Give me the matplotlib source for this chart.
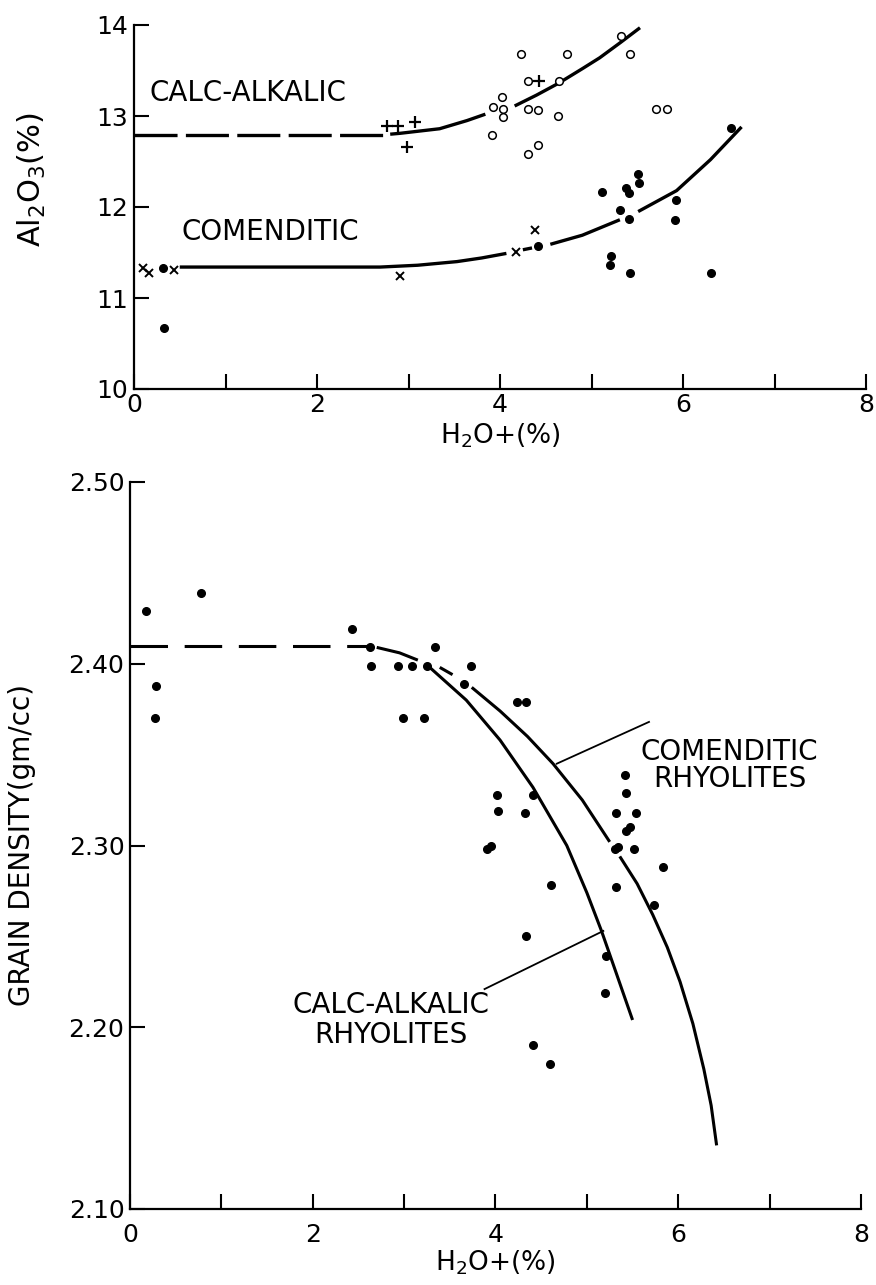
import matplotlib
matplotlib.use("Agg")
import matplotlib.pyplot as plt

plt.rcParams['font.family'] = ['DejaVu Sans']
plt.rcParams['lines.scale_dashes'] = False

# ---- Panel superior: Al2O3 vs H2O+ ----
calc_circ_x = [3.92, 3.91, 4.02, 4.03, 4.03, 4.23, 4.31, 4.31, 4.31, 4.42, 4.42, 4.64, 4.63, 4.73, 5.32, 5.42, 5.71, 5.82]
calc_circ_y = [13.10, 12.79, 13.21, 13.08, 12.99, 13.68, 13.38, 13.08, 12.58, 13.07, 12.68, 13.39, 13.00, 13.68, 13.88, 13.68, 13.08, 13.08]
calc_plus_x = [2.76, 2.88, 3.07, 2.98, 4.43]
calc_plus_y = [12.89, 12.89, 12.93, 12.66, 13.38]

com_dot_x = [0.32, 0.33, 4.41, 5.11, 5.21, 5.20, 5.31, 5.38, 5.41, 5.41, 5.42, 5.51, 5.52, 5.91, 5.92, 6.31, 6.52]
com_dot_y = [11.33, 10.67, 11.57, 12.17, 11.46, 11.36, 11.97, 12.21, 12.15, 11.87, 11.27, 12.36, 12.26, 11.86, 12.08, 11.27, 12.87]
com_x_x = [0.10, 0.16, 0.44, 2.91, 4.17, 4.38]
com_x_y = [11.33, 11.27, 11.31, 11.24, 11.51, 11.75]

# curvas (tramos separados)
calc_dash_x = [0.0, 2.80]
calc_dash_y = [12.79, 12.79]
calc_seg_x = [[2.80, 2.91, 3.34, 3.64, 3.84], [4.16, 4.40, 4.64, 4.90, 5.09, 5.32, 5.53]]
calc_seg_y = [[12.80, 12.81, 12.86, 12.95, 13.02], [13.11, 13.23, 13.36, 13.52, 13.64, 13.81, 13.97]]
com_seg_x = [[0.50, 1.50, 2.69, 3.10, 3.53, 3.80, 4.07], [4.25, 4.35], [4.55, 4.90, 5.31], [5.51, 5.93, 6.30, 6.64]]
com_seg_y = [[11.34, 11.34, 11.34, 11.36, 11.40, 11.44, 11.49], [11.53, 11.55], [11.59, 11.69, 11.86], [11.95, 12.18, 12.52, 12.88]]

# ---- Panel inferior: densidad de grano vs H2O+ ----
dens_x = [0.18, 0.78, 0.29, 0.27, 2.43, 2.63, 3.34, 2.64, 2.93, 3.09, 3.25, 3.73, 3.65, 2.99, 3.22,
          4.23, 4.33, 4.02, 4.41, 4.03, 4.32, 3.91, 3.95, 4.61, 4.33, 5.21, 5.20, 4.41, 4.60,
          5.42, 5.43, 5.32, 5.54, 5.43, 5.47, 5.31, 5.34, 5.52, 5.83, 5.32, 5.73]
dens_y = [2.429, 2.439, 2.388, 2.370, 2.419, 2.409, 2.409, 2.399, 2.399, 2.399, 2.399, 2.399, 2.389, 2.370, 2.370,
          2.379, 2.379, 2.328, 2.328, 2.319, 2.318, 2.298, 2.300, 2.278, 2.250, 2.239, 2.219, 2.190, 2.180,
          2.339, 2.329, 2.318, 2.318, 2.308, 2.310, 2.298, 2.299, 2.298, 2.288, 2.277, 2.267]

dens_dash_x = [0.0, 2.62]
dens_dash_y = [2.41, 2.41]
dens_common_x = [2.70, 2.95, 3.15]
dens_common_y = [2.409, 2.406, 2.402]
rhy_calc_x = [3.28, 3.68, 4.05, 4.41, 4.78, 5.00, 5.16, 5.32, 5.50]
rhy_calc_y = [2.398, 2.380, 2.358, 2.332, 2.300, 2.274, 2.253, 2.230, 2.204]
rhy_com_seg_x = [[3.39, 3.53], [3.74, 4.05, 4.35, 4.63, 4.95, 5.25],
                 [5.36, 5.55, 5.72, 5.88, 6.02, 6.16, 6.28, 6.36, 6.42]]
rhy_com_seg_y = [[2.398, 2.394], [2.387, 2.374, 2.360, 2.345, 2.325, 2.302],
                 [2.294, 2.279, 2.262, 2.244, 2.225, 2.202, 2.177, 2.157, 2.135]]

lead_com_x = [4.67, 5.68]
lead_com_y = [2.345, 2.368]
lead_calc_x = [5.18, 3.88]
lead_calc_y = [2.253, 2.221]

W, H = 876, 1285
fig = plt.figure(figsize=(W / 100, H / 100), dpi=100)

def frame(ax, xpad):
    for s in ['top', 'right']:
        ax.spines[s].set_visible(False)
    for s in ['left', 'bottom']:
        ax.spines[s].set_linewidth(1.6)
    ax.tick_params(direction='in', length=11, width=1.5, labelsize=18)
    ax.tick_params(axis='x', pad=xpad)
    ax.tick_params(axis='y', pad=4)
    ax.set_xticks(range(0, 9))
    ax.set_xticklabels([str(v) if v % 2 == 0 else '' for v in range(0, 9)])

# panel superior
ax1 = fig.add_axes([134 / W, 1 - 389 / H, 732 / W, 364 / H])
ax1.set_xlim(0, 8)
ax1.set_ylim(10, 14)
frame(ax1, 3)
ax1.set_yticks([10, 11, 12, 13, 14])
ax1.set_yticklabels(['10', '11', '12', '13', '14'])

ax1.plot(calc_dash_x, calc_dash_y, color='black', lw=2.4, dashes=(31, 6))
for xs, ys in zip(calc_seg_x, calc_seg_y):
    ax1.plot(xs, ys, color='black', lw=2.4, solid_capstyle='butt')
for xs, ys in zip(com_seg_x, com_seg_y):
    ax1.plot(xs, ys, color='black', lw=2.4, solid_capstyle='butt')

ax1.plot(calc_circ_x, calc_circ_y, 'o', ms=5.5, mfc='white', mec='black', mew=1.1, ls='none')
ax1.plot(calc_plus_x, calc_plus_y, '+', ms=8, mec='black', mew=1.6, ls='none')
ax1.plot(com_dot_x, com_dot_y, 'o', ms=5.5, color='black', ls='none')
ax1.plot(com_x_x, com_x_y, 'x', ms=6, mec='black', mew=1.4, ls='none')

ax1.text(0.17, 13.25, 'CALC-ALKALIC', fontsize=20, ha='left', va='center')
ax1.text(0.52, 11.73, 'COMENDITIC', fontsize=20, ha='left', va='center')
ax1.set_xlabel('H$_2$O+(%)', fontsize=19, labelpad=3)
fig.text(32 / W, 1 - 180 / H, 'Al$_2$O$_3$(%)', fontsize=22, rotation=90, ha='center', va='center')

# panel inferior
ax2 = fig.add_axes([130 / W, 1 - 1209 / H, 731 / W, 727 / H])
ax2.set_xlim(0, 8)
ax2.set_ylim(2.10, 2.50)
frame(ax2, 10)
ax2.set_yticks([2.10, 2.20, 2.30, 2.40, 2.50])
ax2.set_yticklabels(['2.10', '2.20', '2.30', '2.40', '2.50'])

ax2.plot(dens_dash_x, dens_dash_y, color='black', lw=2.2, dashes=(27, 12))
ax2.plot(dens_common_x, dens_common_y, color='black', lw=2.2, solid_capstyle='butt')
ax2.plot(rhy_calc_x, rhy_calc_y, color='black', lw=2.2, solid_capstyle='butt')
for xs, ys in zip(rhy_com_seg_x, rhy_com_seg_y):
    ax2.plot(xs, ys, color='black', lw=2.2, solid_capstyle='butt')
ax2.plot(lead_com_x, lead_com_y, color='black', lw=1.3)
ax2.plot(lead_calc_x, lead_calc_y, color='black', lw=1.3)

ax2.plot(dens_x, dens_y, 'o', ms=5.5, color='black', ls='none')

ax2.text(5.59, 2.344, 'COMENDITIC\nRHYOLITES', fontsize=20, ha='left', va='center',
         multialignment='center', linespacing=0.95)
ax2.text(2.86, 2.204, 'CALC-ALKALIC\nRHYOLITES', fontsize=20, ha='center', va='center',
         multialignment='center', linespacing=1.05)
ax2.set_xlabel('H$_2$O+(%)', fontsize=19, labelpad=1)
fig.text(22 / W, 1 - 845 / H, 'GRAIN DENSITY(gm/cc)', fontsize=20, rotation=90, ha='center', va='center')

fig.savefig('out.png', dpi=100)
